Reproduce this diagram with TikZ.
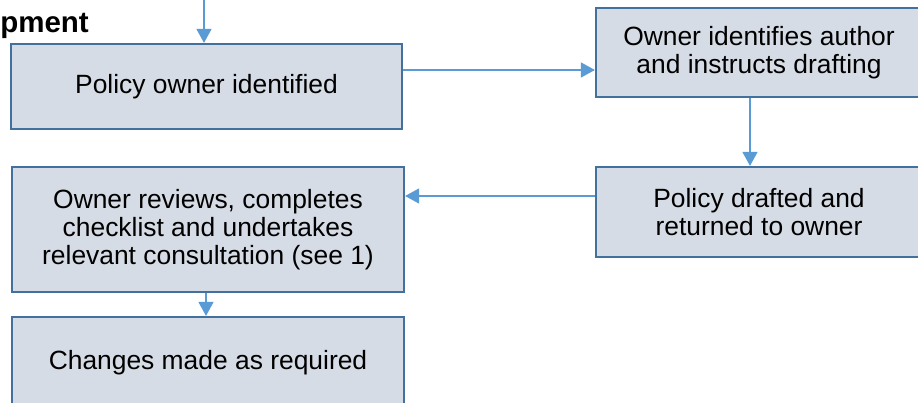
\documentclass[tikz,border=0pt]{standalone}
\usepackage{fontspec}
\setmainfont{Liberation Sans}
\usetikzlibrary{arrows.meta}
\definecolor{boxfill}{HTML}{D6DCE5}
\definecolor{boxline}{HTML}{41719C}
\definecolor{arrowc}{HTML}{5B9BD5}
\tikzset{
  flowbox/.style={draw=boxline, fill=boxfill, line width=2.2pt, align=center, inner sep=0pt,
    font=\fontsize{26.4}{28.3}\selectfont, text=black},
  conn/.style={draw=arrowc, line width=1.3pt, -{Triangle[length=14pt,width=15pt]}}
}
\begin{document}
\begin{tikzpicture}[x=1pt,y=-1pt]
\clip (0,0) rectangle (918,403);
\fill[white] (0,0) rectangle (918,403);
\node[anchor=base east, font=\fontsize{29.5}{32}\selectfont\bfseries, inner sep=0pt] (title) at (89,33) {pment};
\node[flowbox, minimum width=391pt, minimum height=85pt] (b1) at (206.5,86.5) {Policy owner identified};
\node[flowbox, minimum width=326pt, minimum height=89pt] (b2) at (759,52.5) {Owner identifies author\\and instructs drafting};
\node[flowbox, minimum width=326pt, minimum height=90pt] (b3) at (759,212) {Policy drafted and\\returned to owner};
\node[flowbox, minimum width=392pt, minimum height=125pt] (b4) at (208,229.5) {Owner reviews, completes\\checklist and undertakes\\relevant consultation (see 1)};
\node[flowbox, minimum width=392pt, minimum height=92pt] (b5) at (208,363) {Changes made as required};
\coordinate (top) at (204,-5);
\coordinate (y12) at (0,70);
\coordinate (x23) at (750,0);
\coordinate (y34) at (0,196);
\coordinate (x45) at (206,0);
\draw[conn] (top) -- (top |- b1.north);
\draw[conn] (b1.east |- y12) -- (b2.west |- y12);
\draw[conn] (b2.south -| x23) -- (b3.north -| x23);
\draw[conn] (b3.west |- y34) -- (b4.east |- y34);
\draw[conn] (b4.south -| x45) -- (b5.north -| x45);
\end{tikzpicture}
\end{document}
